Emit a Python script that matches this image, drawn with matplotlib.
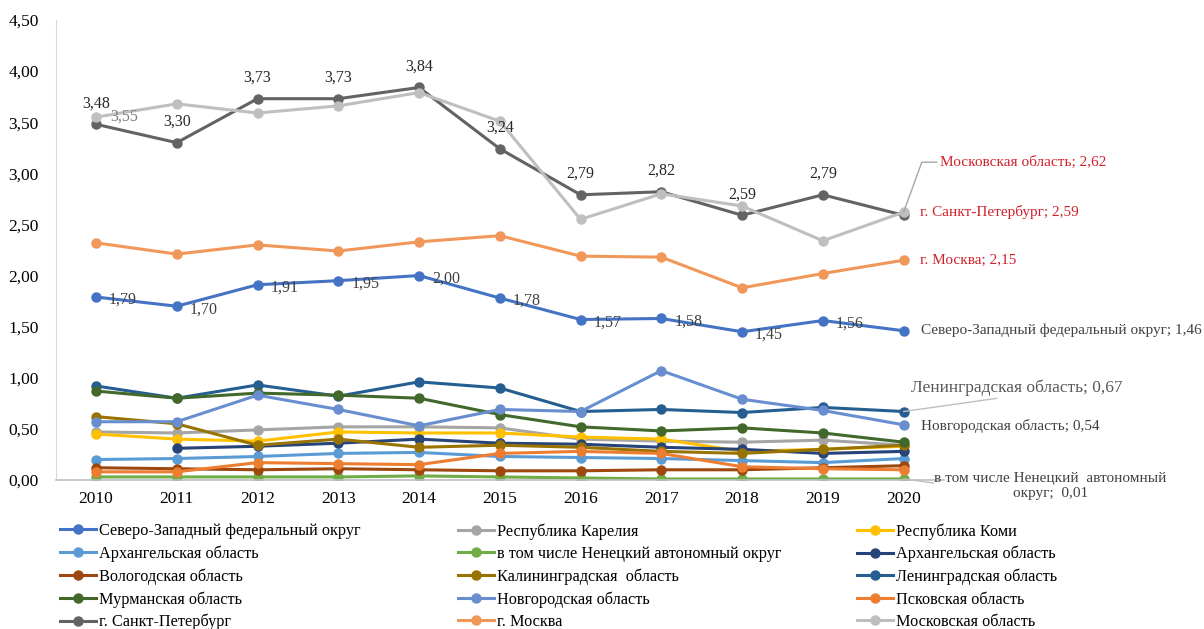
import matplotlib
matplotlib.use("Agg")
import matplotlib.pyplot as plt
from matplotlib.lines import Line2D

plt.rcParams['font.family'] = ['Liberation Serif', 'DejaVu Serif']

years = [2010, 2011, 2012, 2013, 2014, 2015, 2016, 2017, 2018, 2019, 2020]

names = [
    'Северо-Западный федеральный округ',
    'Республика Карелия',
    'Республика Коми',
    'Архангельская область',
    'в том числе Ненецкий автономный округ',
    'Архангельская область',
    'Вологодская область',
    'Калининградская  область',
    'Ленинградская область',
    'Мурманская область',
    'Новгородская область',
    'Псковская область',
    'г. Санкт-Петербург',
    'г. Москва',
    'Московская область',
]

szfo = [1.79, 1.70, 1.91, 1.95, 2.00, 1.78, 1.57, 1.58, 1.45, 1.56, 1.46]
karelia = [0.47, 0.46, 0.49, 0.52, 0.52, 0.51, 0.40, 0.38, 0.37, 0.39, 0.34]
komi = [0.45, 0.40, 0.38, 0.47, 0.46, 0.46, 0.42, 0.40, 0.28, 0.30, 0.33]
arkh = [0.20, 0.21, 0.23, 0.26, 0.27, 0.23, 0.22, 0.21, 0.19, 0.17, 0.21]
nenets = [0.03, 0.03, 0.03, 0.03, 0.04, 0.03, 0.02, 0.01, 0.01, 0.01, 0.01]
arkh2 = [None, 0.31, 0.33, 0.36, 0.40, 0.36, 0.35, 0.32, 0.30, 0.26, 0.28]
vologda = [0.12, 0.11, 0.10, 0.11, 0.10, 0.09, 0.09, 0.10, 0.10, 0.12, 0.14]
kalin = [0.62, 0.55, 0.34, 0.40, 0.32, 0.34, 0.32, 0.28, 0.26, 0.30, 0.34]
lenobl = [0.92, 0.80, 0.93, 0.82, 0.96, 0.90, 0.67, 0.69, 0.66, 0.71, 0.67]
murmansk = [0.87, 0.80, 0.85, 0.83, 0.80, 0.64, 0.52, 0.48, 0.51, 0.46, 0.37]
novgorod = [0.57, 0.57, 0.83, 0.69, 0.53, 0.69, 0.67, 1.07, 0.79, 0.68, 0.54]
pskov = [0.08, 0.08, 0.17, 0.16, 0.15, 0.26, 0.28, 0.26, 0.13, 0.11, 0.10]
spb = [3.48, 3.30, 3.73, 3.73, 3.84, 3.24, 2.79, 2.82, 2.59, 2.79, 2.59]
moscow = [2.32, 2.21, 2.30, 2.24, 2.33, 2.39, 2.19, 2.18, 1.88, 2.02, 2.15]
mosobl = [3.55, 3.68, 3.59, 3.66, 3.79, 3.51, 2.55, 2.80, 2.68, 2.34, 2.62]

series = [szfo, karelia, komi, arkh, nenets, arkh2, vologda, kalin,
          lenobl, murmansk, novgorod, pskov, spb, moscow, mosobl]

colors = ['#4472C4', '#A5A5A5', '#FFC000', '#5B9BD5', '#70AD47', '#264478',
          '#9E480E', '#997300', '#255E91', '#43682B', '#698ED0', '#ED7D31',
          '#636363', '#F1975A', '#BFBFBF']

fig = plt.figure(figsize=(12.04, 6.29), dpi=100)
ax = fig.add_axes([55.6 / 1204, 1 - 480 / 629, (944 - 55.6) / 1204, 460 / 629])

xs = list(range(len(years)))
handles = []
for vals, name, col in zip(series, names, colors):
    px = [x for x, v in zip(xs, vals) if v is not None]
    py = [v for v in vals if v is not None]
    ax.plot(px, py, color=col, lw=2.2, marker='o', ms=6.5, label=name)
    handles.append(Line2D([0], [0], color=col, lw=2.2, marker='o', ms=6.5))

ax.set_xlim(-0.5, len(years) - 0.5)
ax.set_ylim(0, 4.5)
ax.set_xticks(xs)
ax.set_xticklabels([str(y) for y in years])
yt = [i * 0.5 for i in range(10)]
ax.set_yticks(yt)
ax.set_yticklabels([f'{v:.2f}'.replace('.', ',') for v in yt])
ax.tick_params(length=0, labelsize=12.5, colors='#000000', pad=8)
ax.tick_params(axis='y', pad=12)
for s in ['top', 'right']:
    ax.spines[s].set_visible(False)
ax.spines['left'].set_color('#D9D9D9')
ax.spines['bottom'].set_color('#BFBFBF')
ax.spines['bottom'].set_linewidth(1.2)

fmt = lambda v: f'{v:.2f}'.replace('.', ',')

# labels for federal district (right of points)
for x, v in zip(xs[:-1], szfo[:-1]):
    ax.annotate(fmt(v), (x, v), xytext=(13, -3), textcoords='offset pixels',
                ha='left', va='center', fontsize=11.5, color='#404040')

# labels for St. Petersburg (above points)
for x, v in zip(xs[:-1], spb[:-1]):
    ax.annotate(fmt(v), (x, v), xytext=(0, 21), textcoords='offset pixels',
                ha='center', va='center', fontsize=11.5, color='#262626')

ax.annotate(fmt(mosobl[0]), (0, mosobl[0]), xytext=(14, 0), textcoords='offset pixels',
            ha='left', va='center', fontsize=11.5, color='#7F7F7F')

# series name labels at the right end
red = '#D0202A'
last = len(years) - 1
ax.annotate(f'Московская область; {fmt(mosobl[-1])}', (last, mosobl[-1]),
            xytext=(36, 50), textcoords='offset pixels', ha='left', va='center',
            fontsize=11, color=red, annotation_clip=False,
            arrowprops=dict(arrowstyle='-', color='#A6A6A6', lw=1,
                            connectionstyle='angle,angleA=0,angleB=70,rad=0',
                            shrinkA=0, shrinkB=0, relpos=(0, 0.5)))
ax.annotate(f'г. Санкт-Петербург; {fmt(spb[-1])}', (last, spb[-1]),
            xytext=(16, 3), textcoords='offset pixels', ha='left', va='center',
            fontsize=11, color=red, annotation_clip=False)
ax.annotate(f'г. Москва; {fmt(moscow[-1])}', (last, moscow[-1]),
            xytext=(16, 0), textcoords='offset pixels', ha='left', va='center',
            fontsize=11, color=red, annotation_clip=False)
ax.annotate(f'Северо-Западный федеральный округ; {fmt(szfo[-1])}', (last, szfo[-1]),
            xytext=(17, 1), textcoords='offset pixels', ha='left', va='center',
            fontsize=11, color='#404040', annotation_clip=False)
ax.annotate(f'Ленинградская область; {fmt(lenobl[-1])}', (last, lenobl[-1]),
            xytext=(113, 16), textcoords='offset pixels', ha='center', va='bottom',
            fontsize=12.5, color='#595959', annotation_clip=False,
            arrowprops=dict(arrowstyle='-', color='#BFBFBF', lw=1,
                            shrinkA=0, shrinkB=0, relpos=(0.5, 0)))
ax.annotate(f'Новгородская область; {fmt(novgorod[-1])}', (last, novgorod[-1]),
            xytext=(17, -1), textcoords='offset pixels', ha='left', va='center',
            fontsize=11, color='#404040', annotation_clip=False)
ax.annotate(f'в том числе Ненецкий  автономный\nокруг;  {fmt(nenets[-1])}',
            (last, nenets[-1]), xytext=(147, -7), textcoords='offset pixels',
            ha='center', va='center', multialignment='center', linespacing=1.15,
            fontsize=11, color='#404040', annotation_clip=False)
ax.annotate('', (last, nenets[-1]), xytext=(30, -4), textcoords='offset pixels',
            annotation_clip=False,
            arrowprops=dict(arrowstyle='-', color='#BFBFBF', lw=1, shrinkA=0, shrinkB=0))

# legend in three columns, filled row by row
col_x = [60 / 1204, 458 / 1204, 857 / 1204]
for c in range(3):
    idx = list(range(c, len(names), 3))
    fig.legend([handles[i] for i in idx], [names[i] for i in idx],
               loc='upper left', bbox_to_anchor=(col_x[c], 1 - 523 / 629),
               frameon=False, fontsize=11.7, handlelength=2.2, handletextpad=0.2,
               labelspacing=0.39, borderpad=0, borderaxespad=0)

fig.savefig('out.png', dpi=100)
